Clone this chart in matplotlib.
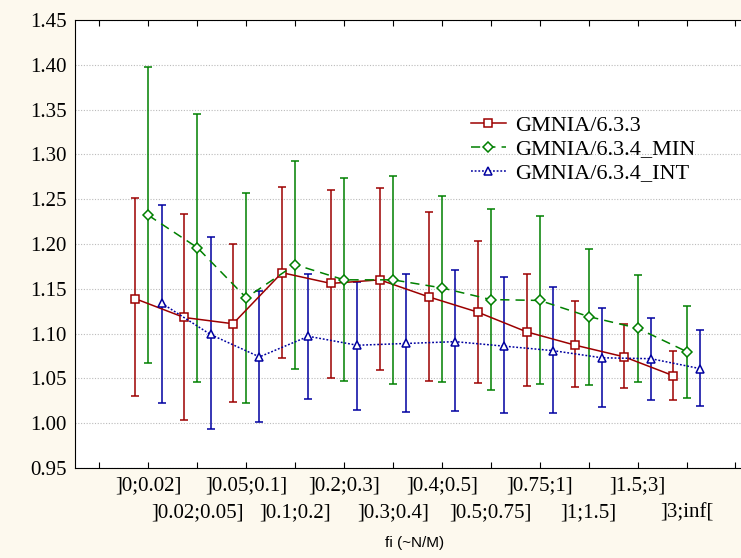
import numpy as np
import matplotlib.pyplot as plt

categories = ["]0;0.02]", "]0.02;0.05]", "]0.05;0.1]", "]0.1;0.2]", "]0.2;0.3]", "]0.3;0.4]",
              "]0.4;0.5]", "]0.5;0.75]", "]0.75;1]", "]1;1.5]", "]1.5;3]", "]3;inf["]

# GMNIA/6.3.3
red_mean = [1.139, 1.118, 1.111, 1.168, 1.156, 1.160, 1.141, 1.124, 1.102, 1.087, 1.074, 1.053]
red_high = [1.251, 1.234, 1.200, 1.264, 1.260, 1.262, 1.236, 1.203, 1.166, 1.136, 1.111, 1.081]
red_low = [1.030, 1.004, 1.024, 1.073, 1.051, 1.059, 1.047, 1.045, 1.041, 1.040, 1.039, 1.026]

# GMNIA/6.3.4_MIN
green_mean = [1.232, 1.196, 1.140, 1.177, 1.160, 1.160, 1.151, 1.138, 1.137, 1.119, 1.106, 1.080]
green_high = [1.397, 1.345, 1.257, 1.293, 1.274, 1.276, 1.254, 1.239, 1.231, 1.194, 1.165, 1.131]
green_low = [1.067, 1.046, 1.023, 1.061, 1.047, 1.044, 1.046, 1.037, 1.044, 1.043, 1.046, 1.028]

# GMNIA/6.3.4_INT
blue_mean = [1.134, 1.099, 1.074, 1.097, 1.087, 1.089, 1.091, 1.086, 1.081, 1.073, 1.072, 1.061]
blue_high = [1.244, 1.208, 1.148, 1.167, 1.158, 1.166, 1.171, 1.163, 1.152, 1.129, 1.117, 1.104]
blue_low = [1.022, 0.993, 1.001, 1.027, 1.015, 1.012, 1.014, 1.011, 1.011, 1.018, 1.026, 1.019]

series = [
    ("GMNIA/6.3.3", red_mean, red_low, red_high, "#9c0000", "s", "-", 6.0, -0.27),
    ("GMNIA/6.3.4_MIN", green_mean, green_low, green_high, "#008000", "D", (0, (6, 4)), 4.8, 0.0),
    ("GMNIA/6.3.4_INT", blue_mean, blue_low, blue_high, "#0000a0", "^", (0, (1.2, 1.2)), 6.0, 0.27),
]

plt.rcParams['font.family'] = ['Liberation Serif', 'DejaVu Serif']

fig = plt.figure(figsize=(7.41, 5.58), dpi=100, facecolor="#fdf9ee")
ax = fig.add_axes([75 / 741, 90 / 558, 680 / 741, 448 / 558])
ax.set_facecolor("white")

x = np.arange(1, len(categories) + 1)
handles = []
for name, mean, low, high, color, marker, ls, ms, off in series:
    mean = np.array(mean)
    yerr = [mean - np.array(low), np.array(high) - mean]
    cont = ax.errorbar(x + off, mean, yerr=yerr, color=color, ecolor=color, elinewidth=1.1,
                       capsize=3, capthick=1.1, marker=marker, markersize=ms,
                       markerfacecolor="white", markeredgecolor=color, markeredgewidth=1.1,
                       linestyle=ls, linewidth=1.1, label=name)
    handles.append(cont[0])

ax.set_ylim(0.95, 1.45)
ax.set_xlim(-0.5, 13.4)
ax.set_yticks(np.arange(0.95, 1.451, 0.05))
ax.set_yticklabels([f"{v:.2f}" for v in np.arange(0.95, 1.451, 0.05)], fontsize=15)
ax.yaxis.grid(True, linestyle=(0, (1, 1.5)), color="#bbbbbb", linewidth=0.8)
ax.set_axisbelow(True)

# first row of labels on major ticks, second row on minor ticks
major_pos = [0] + list(x[0::2]) + [13]
major_lab = [""] + categories[0::2] + [""]
minor_pos = list(x[1::2])
minor_lab = categories[1::2]
ax.set_xticks(major_pos)
ax.set_xticklabels(major_lab, fontsize=15)
ax.set_xticks(minor_pos, minor=True)
ax.set_xticklabels(minor_lab, minor=True, fontsize=15)
ax.tick_params(axis="x", which="both", direction="in", top=True, length=4, width=0.8)
ax.tick_params(axis="x", which="major", pad=6)
ax.tick_params(axis="x", which="minor", pad=25)
ax.tick_params(axis="y", length=0, pad=6)
ax.spines["right"].set_visible(False)

ax.set_xlabel("fi (~N/M)", fontsize=11, family="Liberation Sans", labelpad=10)

ax.legend(handles=handles, labels=[s[0] for s in series],
          loc="upper left", bbox_to_anchor=(460 / 741, 1 - 104 / 558), bbox_transform=fig.transFigure,
          frameon=False, fontsize=16, handlelength=1.55, handletextpad=0.45, labelspacing=0.15,
          borderpad=0)

fig.savefig("out.png", dpi=100, facecolor=fig.get_facecolor())
